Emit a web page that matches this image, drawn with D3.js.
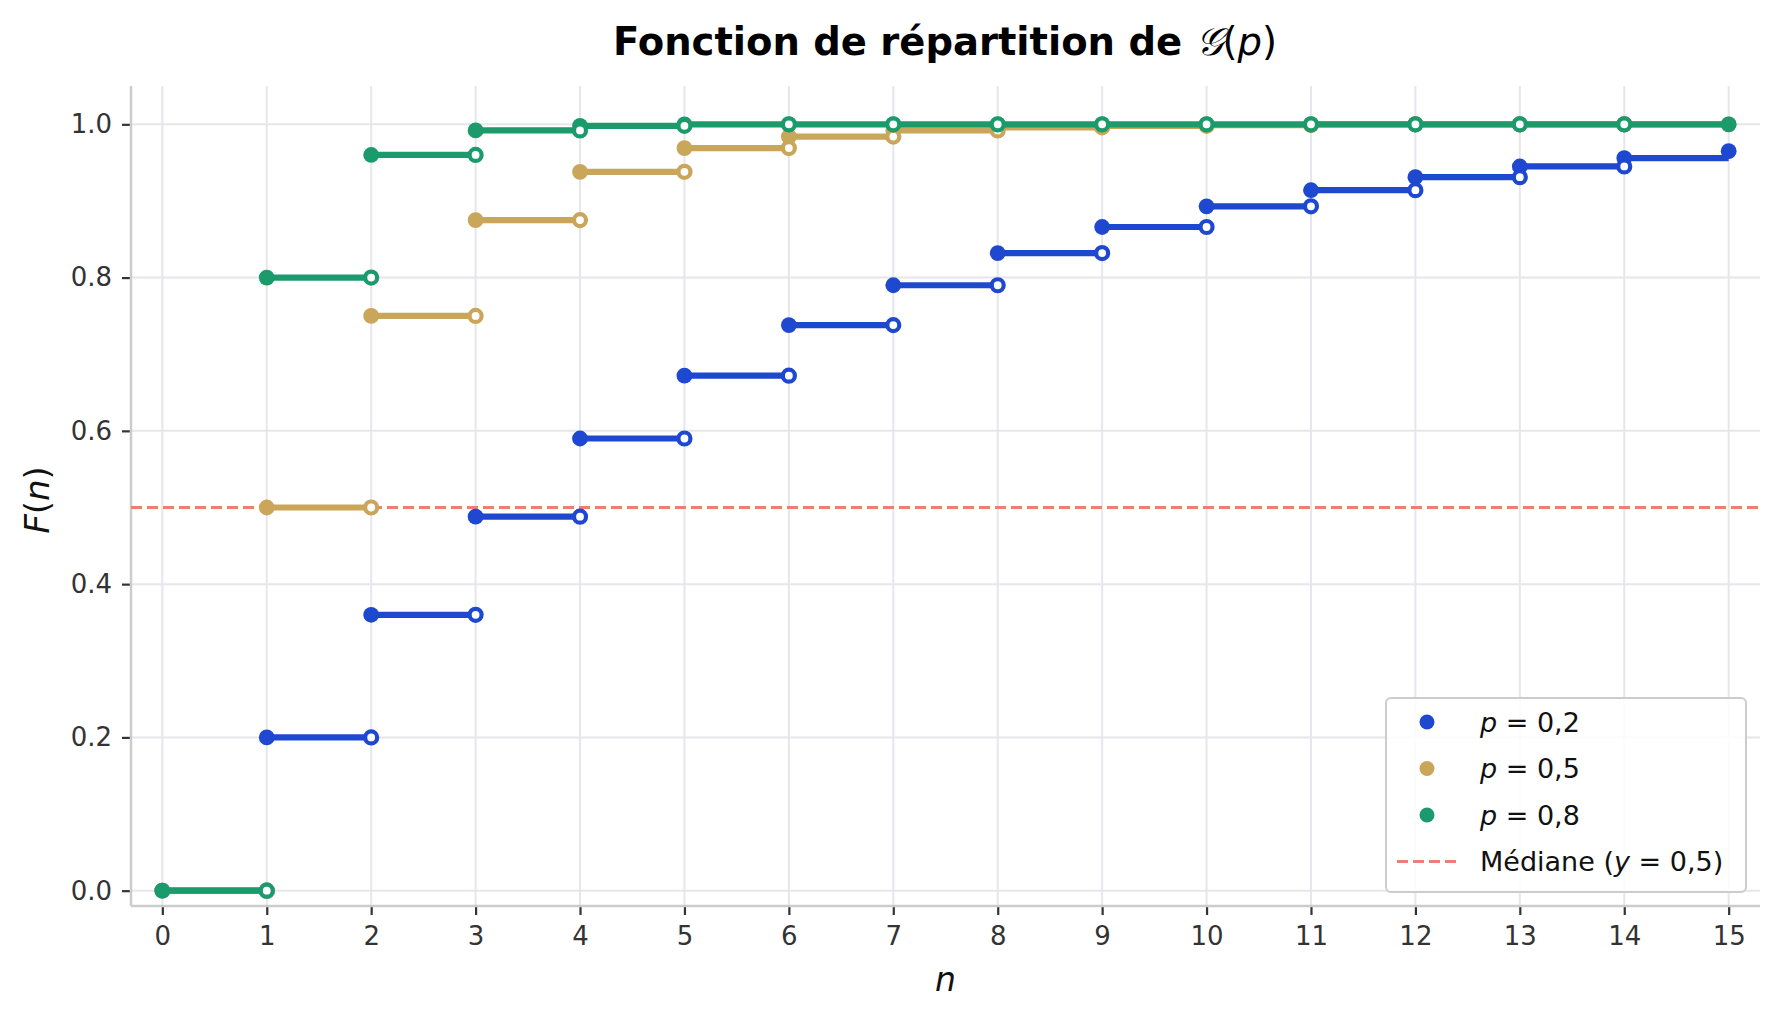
<!DOCTYPE html>
<html>
<head>
<meta charset="utf-8">
<script src="https://cdn.jsdelivr.net/npm/d3@7"></script>
<style>
  body { margin: 0; background: #fff; }
  text { font-family: "DejaVu Sans", sans-serif; }
</style>
</head>
<body>
<div id="chart"></div>
<script>
// values of n on the x axis
let nValues = [0, 1, 2, 3, 4, 5, 6, 7, 8, 9, 10, 11, 12, 13, 14, 15];

// F(n) for each p
let cdfP02 = [0, 0.2, 0.36, 0.488, 0.590, 0.672, 0.738, 0.790, 0.832, 0.866, 0.893, 0.914, 0.931, 0.945, 0.956, 0.965];
let cdfP05 = [0, 0.5, 0.75, 0.875, 0.938, 0.969, 0.984, 0.992, 0.996, 0.998, 0.999, 1.0, 1.0, 1.0, 1.0, 1.0];
let cdfP08 = [0, 0.8, 0.96, 0.992, 0.998, 1.0, 1.0, 1.0, 1.0, 1.0, 1.0, 1.0, 1.0, 1.0, 1.0, 1.0];

let seriesLabels = ["0,2", "0,5", "0,8"];
let seriesColors = ["#1f48d0", "#c9a659", "#1b9b6c"];
let yTicks = [0, 0.2, 0.4, 0.6, 0.8, 1.0];
let medianValue = 0.5;
let medianColor = "#ee7d75";

let svgWidth = 1779;
let svgHeight = 1019;

// plot area in pixels
let margin = { top: 86, right: 19, bottom: 113, left: 131 };
let width = svgWidth - margin.left - margin.right;
let height = svgHeight - margin.top - margin.bottom;

let svg = d3.select("#chart")
  .append("svg")
  .attr("width", svgWidth)
  .attr("height", svgHeight);

let chartGroup = svg.append("g")
  .attr("transform", `translate(${margin.left}, ${margin.top})`);

let xScale = d3.scaleLinear()
  .domain([-0.3, 15.3])
  .range([0, width]);

let yScale = d3.scaleLinear()
  .domain([-0.02, 1.05])
  .range([height, 0]);

// grid
chartGroup.append("g")
  .selectAll("line")
  .data(nValues)
  .enter()
  .append("line")
  .attr("x1", d => xScale(d))
  .attr("x2", d => xScale(d))
  .attr("y1", 0)
  .attr("y2", height)
  .attr("stroke", "#e6e6ec")
  .attr("stroke-width", 2);

chartGroup.append("g")
  .selectAll("line")
  .data(yTicks)
  .enter()
  .append("line")
  .attr("x1", 0)
  .attr("x2", width)
  .attr("y1", d => yScale(d))
  .attr("y2", d => yScale(d))
  .attr("stroke", "#e6e6ec")
  .attr("stroke-width", 2);

// axes
let bottomAxis = d3.axisBottom(xScale)
  .tickValues(nValues)
  .tickFormat(d3.format("d"))
  .tickSize(9)
  .tickPadding(12);

let leftAxis = d3.axisLeft(yScale)
  .tickValues(yTicks)
  .tickFormat(d3.format(".1f"))
  .tickSize(9)
  .tickPadding(10);

let xAxisGroup = chartGroup.append("g")
  .attr("transform", `translate(0, ${height})`)
  .call(bottomAxis);

let yAxisGroup = chartGroup.append("g")
  .call(leftAxis);

[xAxisGroup, yAxisGroup].forEach(function (g) {
  g.select(".domain").remove();
  g.selectAll(".tick line").attr("stroke", "#333").attr("stroke-width", 2.2);
  g.selectAll(".tick text")
    .attr("fill", "#333")
    .style("font-size", "26px")
    .style("font-family", "DejaVu Sans");
});

// spines (left and bottom only)
chartGroup.append("line")
  .attr("x1", 0).attr("x2", 0)
  .attr("y1", 0).attr("y2", height)
  .attr("stroke", "#cccccc").attr("stroke-width", 2.5);
chartGroup.append("line")
  .attr("x1", 0).attr("x2", width)
  .attr("y1", height).attr("y2", height)
  .attr("stroke", "#cccccc").attr("stroke-width", 2.5);

// median line
chartGroup.append("line")
  .attr("x1", 0).attr("x2", width)
  .attr("y1", yScale(medianValue)).attr("y2", yScale(medianValue))
  .attr("stroke", medianColor)
  .attr("stroke-width", 3)
  .attr("stroke-dasharray", "11,5");

// step functions
let allSeries = [cdfP02, cdfP05, cdfP08];

allSeries.forEach(function (values, k) {
  let color = seriesColors[k];
  let g = chartGroup.append("g");
  let steps = values.slice(0, values.length - 1);

  g.selectAll("line")
    .data(steps)
    .enter()
    .append("line")
    .attr("x1", (d, i) => xScale(nValues[i]))
    .attr("x2", (d, i) => xScale(nValues[i + 1]))
    .attr("y1", d => yScale(d))
    .attr("y2", d => yScale(d))
    .attr("stroke", color)
    .attr("stroke-width", 6.2);

  g.selectAll("circle.filled")
    .data(values)
    .enter()
    .append("circle")
    .attr("class", "filled")
    .attr("cx", (d, i) => xScale(nValues[i]))
    .attr("cy", d => yScale(d))
    .attr("r", 7.9)
    .attr("fill", color);

  // open circles at the right end of each step, except the last
  g.selectAll("circle.open")
    .data(values.slice(0, values.length - 2))
    .enter()
    .append("circle")
    .attr("class", "open")
    .attr("cx", (d, i) => xScale(nValues[i + 1]))
    .attr("cy", d => yScale(d))
    .attr("r", 6)
    .attr("fill", "white")
    .attr("stroke", color)
    .attr("stroke-width", 4.2);
});

// legend
let legend = svg.append("g")
  .attr("transform", "translate(1386, 698)");

legend.append("rect")
  .attr("width", 360)
  .attr("height", 194)
  .attr("rx", 5)
  .attr("fill", "white")
  .attr("fill-opacity", 0.85)
  .attr("stroke", "#cccccc")
  .attr("stroke-width", 2);

seriesLabels.forEach(function (label, k) {
  let row = legend.append("g")
    .attr("transform", `translate(0, ${24 + k * 46.5})`);
  row.append("circle")
    .attr("cx", 41)
    .attr("cy", 0)
    .attr("r", 7.5)
    .attr("fill", seriesColors[k]);
  let t = row.append("text")
    .attr("x", 94)
    .attr("y", 9.5)
    .style("font-size", "27px")
    .attr("fill", "#111");
  t.append("tspan").style("font-style", "italic").text("p");
  t.append("tspan").text(" = " + label);
});

let medRow = legend.append("g")
  .attr("transform", `translate(0, ${24 + 3 * 46.5})`);
medRow.append("line")
  .attr("x1", 11).attr("x2", 70)
  .attr("y1", 0).attr("y2", 0)
  .attr("stroke", medianColor)
  .attr("stroke-width", 3)
  .attr("stroke-dasharray", "11,5");
let medText = medRow.append("text")
  .attr("x", 94)
  .attr("y", 9.5)
  .style("font-size", "27px")
  .attr("fill", "#111");
medText.append("tspan").text("Médiane (");
medText.append("tspan").style("font-style", "italic").text("y");
medText.append("tspan").text(" = 0,5)");

// title
let title = svg.append("text")
  .attr("x", 945)
  .attr("y", 55)
  .attr("text-anchor", "middle")
  .style("font-size", "38.5px")
  .style("font-weight", "bold")
  .attr("fill", "#000");
title.append("tspan").text("Fonction de répartition de ");
title.append("tspan").style("font-weight", "normal").style("font-style", "italic").text("\uD835\uDCA2");
title.append("tspan").style("font-weight", "normal").text("(");
title.append("tspan").style("font-weight", "normal").style("font-style", "italic").text("p");
title.append("tspan").style("font-weight", "normal").text(")");

// axis labels
let xLabel = svg.append("text")
  .attr("x", margin.left + xScale(7.5))
  .attr("y", 991)
  .attr("text-anchor", "middle")
  .style("font-size", "33px")
  .style("font-style", "italic")
  .attr("fill", "#111")
  .text("n");

let yLabel = svg.append("text")
  .attr("transform", "translate(49, 500) rotate(-90)")
  .attr("text-anchor", "middle")
  .style("font-size", "34px")
  .attr("fill", "#111");
yLabel.append("tspan").style("font-style", "italic").text("F");
yLabel.append("tspan").text("(");
yLabel.append("tspan").style("font-style", "italic").text("n");
yLabel.append("tspan").text(")");
</script>
</body>
</html>
